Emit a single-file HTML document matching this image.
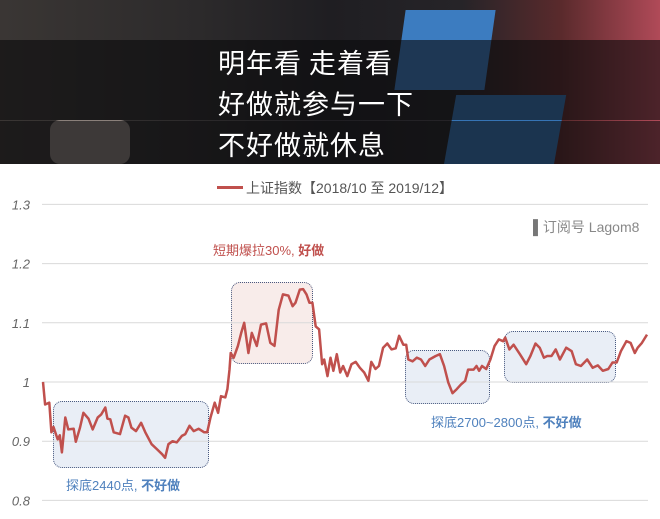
<!DOCTYPE html>
<html><head><meta charset="utf-8"><style>
body{margin:0;width:660px;height:519px;overflow:hidden;background:#fff;font-family:"Liberation Sans","Noto Sans CJK SC",sans-serif}
#photo{position:absolute;left:0;top:0;width:660px;height:164px;background:linear-gradient(90deg,#3a3634 0%,#2c2a2b 30%,#1f1e22 50%,#262428 70%,#5a2a2c 85%,#b04a58 100%);overflow:hidden}
.band{position:absolute;left:0;width:660px;background:rgba(10,10,12,0.6)}
.sub{position:absolute;left:218px;color:#fff;font-size:27px;font-family:"Noto Sans CJK SC",sans-serif;letter-spacing:1px}
.box{position:absolute;border:1px dotted #4a5a80;border-radius:9px}
</style></head><body>
<div id="photo">
 <div style="position:absolute;left:400px;top:10px;width:90px;height:80px;background:#3c7cc0;transform:skew(-8deg)"></div>
 <div style="position:absolute;left:450px;top:95px;width:110px;height:70px;background:#3674b5;transform:skew(-10deg)"></div>
 <div style="position:absolute;left:50px;top:120px;width:80px;height:44px;background:#8a807a;border-radius:10px"></div>
 <div class="band" style="top:40px;height:40px"></div>
 <div class="band" style="top:80px;height:40px"></div>
 <div class="band" style="top:121px;height:43px"></div>
 <div class="sub" style="top:42px">明年看 走着看</div>
 <div class="sub" style="top:83px">好做就参与一下</div>
 <div class="sub" style="top:124px">不好做就休息</div>
</div>
<div class="box" style="left:53px;top:401px;width:154px;height:65px;background:#e9eef6"></div>
<div class="box" style="left:231px;top:282px;width:80px;height:80px;background:#f8ecea"></div>
<div class="box" style="left:405px;top:350px;width:83px;height:52px;background:#e9eef6"></div>
<div class="box" style="left:504px;top:331px;width:110px;height:50px;background:#e9eef6"></div>
<svg id="chart" width="660" height="519" style="position:absolute;left:0;top:0"></svg>
<script>
const ticks=[0.8,0.9,1.0,1.1,1.2,1.3];
const tickLabels=["0.8","0.9","1","1.1","1.2","1.3"];
const timeIdx=[102,107,117,122,127,137,142,147,155,162,175,180,190,198,210,220,232,240,250,255,262,270,285,297,305,312,323,335,345,360,372,385,392,400,410,420,432,440,450,460,472,485,492,500,510,518,525,535,540,545,548,555,565,573,580,590,598,610,620,632,642,652,662,672,685,695,702,712,720,728,735,742,750,758,765,770,778,785,792,800,808,815,825,835,845,855,865,875,882,892,900,910,920,930,940,948,958,965,970,980,990,1000,1010,1020,1035,1045,1055,1065,1075,1085,1095,1105,1112,1125,1132,1138,1145,1155,1165,1175,1185,1195,1200,1210,1220,1235,1250,1260,1272,1282,1292,1300,1310,1320,1330,1345,1358,1368,1380,1395,1408,1420,1432,1445,1455,1465,1475,1488,1498,1508,1515,1525,1537];
const values=[1.0,0.962,0.965,0.915,0.924,0.903,0.91,0.881,0.94,0.92,0.921,0.899,0.923,0.948,0.938,0.92,0.94,0.945,0.957,0.938,0.937,0.915,0.912,0.943,0.94,0.923,0.917,0.931,0.915,0.895,0.887,0.878,0.872,0.895,0.9,0.898,0.909,0.912,0.926,0.917,0.921,0.915,0.915,0.94,0.965,0.948,0.976,0.974,0.988,1.021,1.049,1.041,1.061,1.083,1.1,1.049,1.083,1.061,1.097,1.099,1.066,1.061,1.122,1.148,1.146,1.128,1.134,1.156,1.157,1.148,1.134,1.134,1.094,1.089,1.03,1.038,1.01,1.041,1.019,1.047,1.016,1.027,1.01,1.03,1.034,1.024,1.016,1.002,1.034,1.022,1.027,1.058,1.065,1.055,1.057,1.078,1.063,1.063,1.038,1.035,1.041,1.038,1.027,1.038,1.044,1.047,1.027,0.999,0.981,0.988,0.996,1.002,1.021,1.021,1.027,1.019,1.027,1.022,1.038,1.061,1.072,1.069,1.075,1.055,1.063,1.047,1.03,1.044,1.065,1.058,1.041,1.044,1.044,1.055,1.038,1.058,1.052,1.03,1.027,1.038,1.024,1.028,1.019,1.022,1.033,1.033,1.052,1.069,1.066,1.049,1.058,1.066,1.08];
const NS="http://www.w3.org/2000/svg";
const svg=document.getElementById('chart');
const X0=43,X1=647,tMin=102,tMax=1537;
const xs=t=>X0+(t-tMin)/(tMax-tMin)*(X1-X0);
const ys=v=>382-(v-1)*592;
function mk(tag,attrs){const e=document.createElementNS(NS,tag);for(const k in attrs)e.setAttribute(k,attrs[k]);svg.appendChild(e);return e;}
ticks.forEach((v,i)=>{
 const g=mk('line',{x1:42,x2:648,y1:ys(v),y2:ys(v),stroke:'#d9d9d9','stroke-width':1});
 
 
 const t=mk('text',{x:30,y:ys(v)+5,'text-anchor':'end','font-size':13,'font-style':'italic',fill:'#666','font-family':'Liberation Sans, sans-serif'});
 t.textContent=tickLabels[i];
 
 
});
let d='';values.forEach((v,i)=>{d+=(i?'L':'M')+xs(timeIdx[i]).toFixed(1)+','+ys(v).toFixed(1);});
const p=mk('path',{d:d,fill:'none',stroke:'#c0504d','stroke-width':2.5,'stroke-linejoin':'round'});


</script>
<div style="position:absolute;left:217px;top:186px;width:26px;height:3px;background:#c0504d"></div>
<div style="position:absolute;left:246px;top:178px;font-size:14px;color:#555">上证指数【2018/10 至 2019/12】</div>
<div style="position:absolute;left:533px;top:217px;font-size:14px;color:#888"><b style="color:#777">▌</b>订阅号 Lagom8</div>
<div style="position:absolute;left:213px;top:240px;font-size:13px;color:#c0504d">短期爆拉30%, <b>好做</b></div>
<div style="position:absolute;left:66px;top:475px;font-size:13px;color:#4f81bd">探底2440点, <b>不好做</b></div>
<div style="position:absolute;left:431px;top:412px;font-size:13px;color:#4f81bd">探底2700~2800点, <b>不好做</b></div>
</body></html>
